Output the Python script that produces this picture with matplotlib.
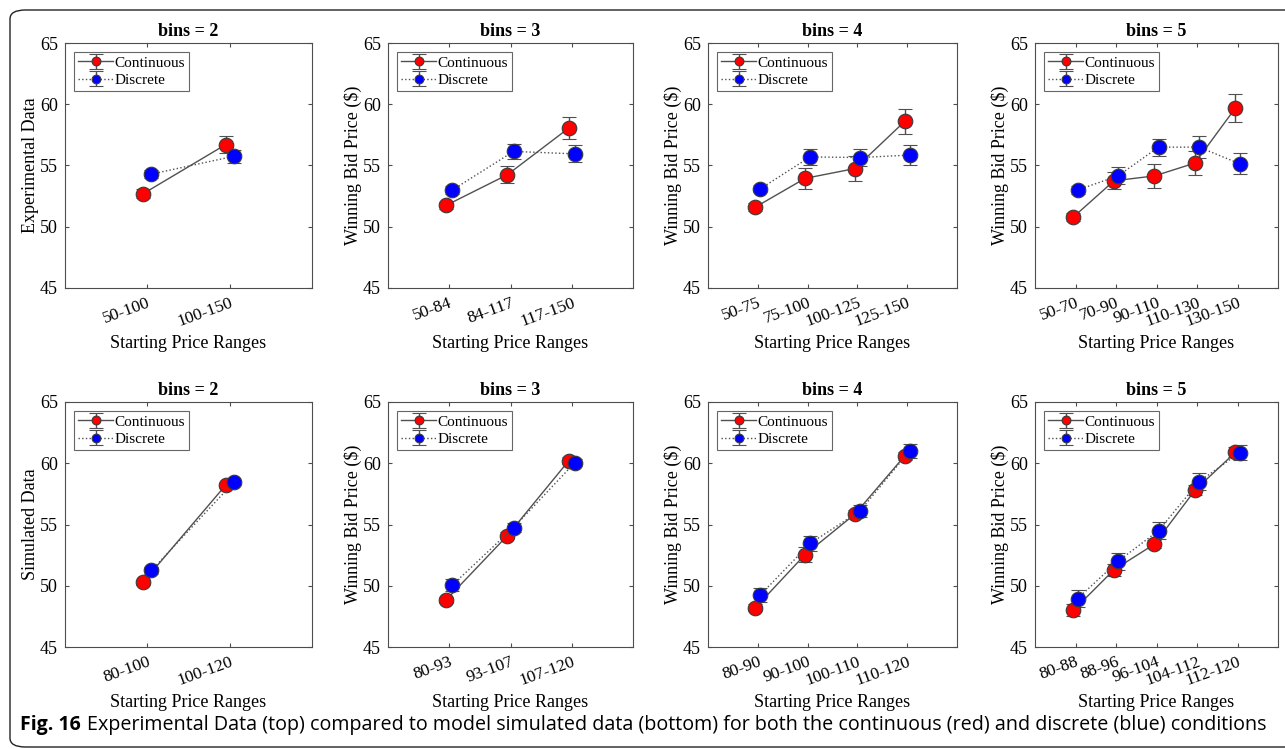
import matplotlib
matplotlib.use("Agg")
import matplotlib.pyplot as plt
import numpy as np
from matplotlib.patches import FancyBboxPatch

plt.rcParams["font.family"] = ["Liberation Serif", "DejaVu Serif"]

# ---- experimental data (top row) ----
exp_ranges_2 = ["50-100", "100-150"]
exp_cont_2 = [52.7, 56.7]
exp_cont_err_2 = [0.35, 0.7]
exp_disc_2 = [54.3, 55.75]
exp_disc_err_2 = [0.3, 0.55]

exp_ranges_3 = ["50-84", "84-117", "117-150"]
exp_cont_3 = [51.75, 54.25, 58.05]
exp_cont_err_3 = [0.3, 0.7, 0.9]
exp_disc_3 = [53.0, 56.15, 55.95]
exp_disc_err_3 = [0.3, 0.6, 0.7]

exp_ranges_4 = ["50-75", "75-100", "100-125", "125-150"]
exp_cont_4 = [51.6, 53.95, 54.75, 58.6]
exp_cont_err_4 = [0.3, 0.85, 1.0, 1.0]
exp_disc_4 = [53.1, 55.7, 55.65, 55.85]
exp_disc_err_4 = [0.3, 0.65, 0.7, 0.85]

exp_ranges_5 = ["50-70", "70-90", "90-110", "110-130", "130-150"]
exp_cont_5 = [50.8, 53.75, 54.15, 55.2, 59.7]
exp_cont_err_5 = [0.3, 0.7, 1.0, 1.0, 1.15]
exp_disc_5 = [53.0, 54.15, 56.5, 56.5, 55.15]
exp_disc_err_5 = [0.3, 0.7, 0.7, 0.9, 0.85]

# ---- simulated data (bottom row) ----
sim_ranges_2 = ["80-100", "100-120"]
sim_cont_2 = [50.3, 58.2]
sim_cont_err_2 = [0.2, 0.2]
sim_disc_2 = [51.25, 58.45]
sim_disc_err_2 = [0.25, 0.2]

sim_ranges_3 = ["80-93", "93-107", "107-120"]
sim_cont_3 = [48.85, 54.1, 60.2]
sim_cont_err_3 = [0.25, 0.3, 0.3]
sim_disc_3 = [50.05, 54.75, 60.05]
sim_disc_err_3 = [0.5, 0.35, 0.3]

sim_ranges_4 = ["80-90", "90-100", "100-110", "110-120"]
sim_cont_4 = [48.2, 52.55, 55.85, 60.6]
sim_cont_err_4 = [0.3, 0.6, 0.3, 0.3]
sim_disc_4 = [49.25, 53.45, 56.1, 61.0]
sim_disc_err_4 = [0.6, 0.6, 0.5, 0.55]

sim_ranges_5 = ["80-88", "88-96", "96-104", "104-112", "112-120"]
sim_cont_5 = [48.0, 51.3, 53.4, 57.8, 60.9]
sim_cont_err_5 = [0.5, 0.5, 0.3, 0.4, 0.4]
sim_disc_5 = [48.95, 52.0, 54.5, 58.5, 60.85]
sim_disc_err_5 = [0.7, 0.7, 0.7, 0.7, 0.6]

bins_list = [2, 3, 4, 5]
top_panels = [
    (exp_ranges_2, exp_cont_2, exp_cont_err_2, exp_disc_2, exp_disc_err_2),
    (exp_ranges_3, exp_cont_3, exp_cont_err_3, exp_disc_3, exp_disc_err_3),
    (exp_ranges_4, exp_cont_4, exp_cont_err_4, exp_disc_4, exp_disc_err_4),
    (exp_ranges_5, exp_cont_5, exp_cont_err_5, exp_disc_5, exp_disc_err_5),
]
bottom_panels = [
    (sim_ranges_2, sim_cont_2, sim_cont_err_2, sim_disc_2, sim_disc_err_2),
    (sim_ranges_3, sim_cont_3, sim_cont_err_3, sim_disc_3, sim_disc_err_3),
    (sim_ranges_4, sim_cont_4, sim_cont_err_4, sim_disc_4, sim_disc_err_4),
    (sim_ranges_5, sim_cont_5, sim_cont_err_5, sim_disc_5, sim_disc_err_5),
]

LINE_COLOR = "#505050"
AXIS_COLOR = "#4d4d4d"
OFFSET = 0.05


def draw_panel(ax, bins, ranges, cont, cont_err, disc, disc_err, ylabel):
    n = len(ranges)
    x = np.arange(1, n + 1)
    common = dict(capsize=5, elinewidth=1.0, capthick=1.0, ecolor=LINE_COLOR,
                  color=LINE_COLOR, linewidth=1.0, marker="o", markersize=10.5,
                  markeredgecolor="#3a3a3a", markeredgewidth=0.8)
    ax.errorbar(x - OFFSET, cont, yerr=cont_err, linestyle="-",
                markerfacecolor="#ff0000", label="Continuous", **common)
    ax.errorbar(x + OFFSET, disc, yerr=disc_err, linestyle=":",
                markerfacecolor="#0000ff", label="Discrete", **common)

    ax.set_xlim(0, n + 1)
    ax.set_ylim(45, 65)
    ax.set_yticks([45, 50, 55, 60, 65])
    ax.set_xticks(x)
    ax.set_xticklabels(ranges, rotation=20, fontsize=12.5, ha="right",
                       rotation_mode="anchor")
    ax.tick_params(axis="y", labelsize=13)
    ax.tick_params(direction="in", top=True, right=True, length=3,
                   color=AXIS_COLOR, pad=5)
    for sp in ax.spines.values():
        sp.set_color(AXIS_COLOR)
        sp.set_linewidth(0.8)

    ax.set_title(f"bins = {bins}", fontsize=13, fontweight="bold", pad=5)
    ax.set_xlabel("Starting Price Ranges", fontsize=13, labelpad=4)
    ax.set_ylabel(ylabel, fontsize=13, labelpad=1)

    leg = ax.legend(loc="upper left", fontsize=11, frameon=True, fancybox=False,
                    borderpad=0.25, labelspacing=0.25, handlelength=2.3,
                    handletextpad=0.1, borderaxespad=0.6, markerscale=0.6)
    leg.get_frame().set_edgecolor("#404040")
    leg.get_frame().set_linewidth(0.8)


fig = plt.figure(figsize=(12.85, 7.49), dpi=100)
W, H = 1285.0, 749.0

x_lefts = [65, 388, 708, 1035]
x_rights = [312, 633, 957, 1278]
rows = [(43, 288), (402, 647)]

for r, (panels, first_label) in enumerate(
        [(top_panels, "Experimental Data"), (bottom_panels, "Simulated Data")]):
    top, bottom = rows[r]
    for c, (bins, data) in enumerate(zip(bins_list, panels)):
        left, right = x_lefts[c], x_rights[c]
        ax = fig.add_axes([left / W, (H - bottom) / H, (right - left) / W, (bottom - top) / H])
        ylabel = first_label if c == 0 else "Winning Bid Price ($)"
        draw_panel(ax, bins, *data, ylabel=ylabel)

# rounded frame around the figure
frame = FancyBboxPatch((10 / W, 2 / H), 1.2, (H - 12) / H,
                       boxstyle="round,pad=0,rounding_size=0.012",
                       transform=fig.transFigure, fill=False,
                       edgecolor="#222222", linewidth=1.0, clip_on=False)
fig.patches.append(frame)

caption_font = ["Open Sans", "DejaVu Sans"]
fig.text(20 / W, (H - 725) / H, "Fig. 16", fontsize=14, fontweight="bold",
         family=caption_font, va="center", ha="left")
fig.text(87 / W, (H - 725) / H,
         "Experimental Data (top) compared to model simulated data (bottom) "
         "for both the continuous (red) and discrete (blue) conditions",
         fontsize=14.25, family=caption_font, va="center", ha="left")

fig.savefig("out.png", dpi=100)
